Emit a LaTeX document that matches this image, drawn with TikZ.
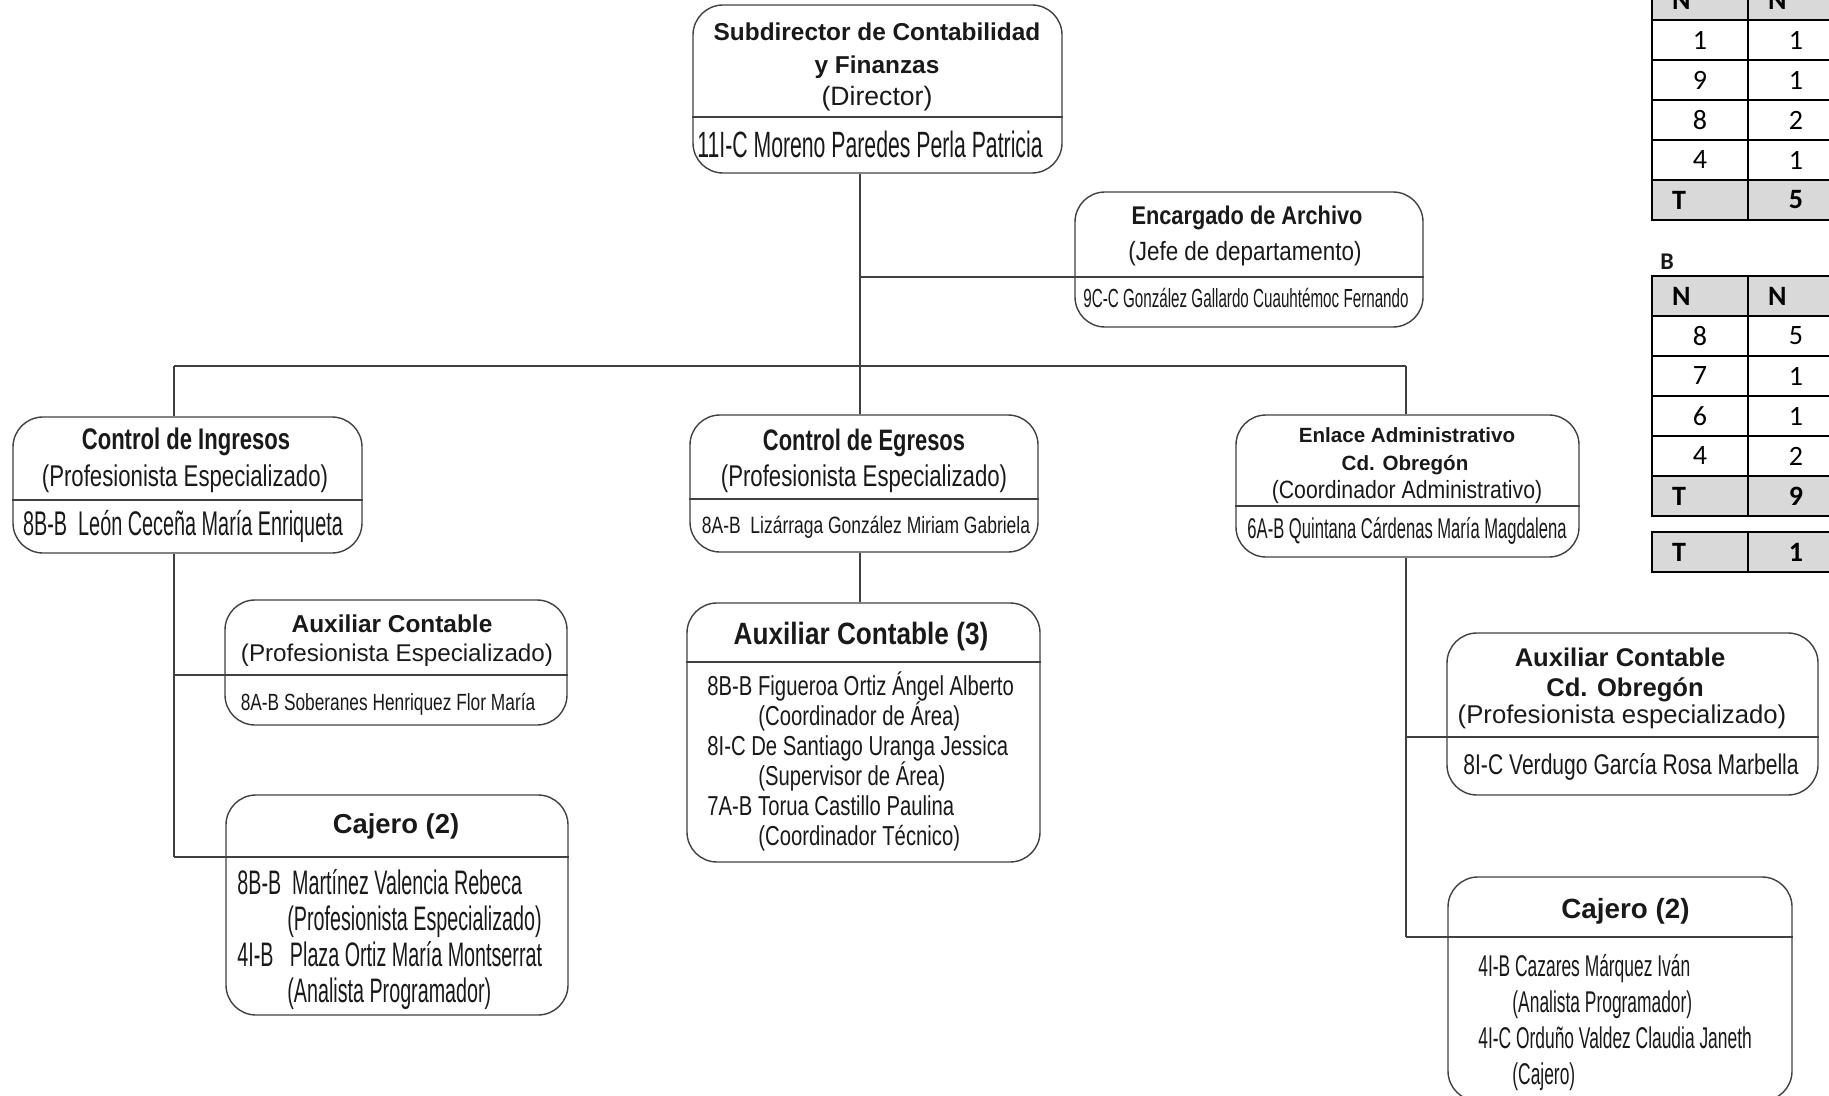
\documentclass[tikz,border=0pt]{standalone}
\usepackage{fontspec}
\setmainfont{Liberation Sans}
\newfontfamily\condA[FakeStretch=0.58]{Liberation Sans}
\newfontfamily\condB[FakeStretch=0.74]{Liberation Sans}
\newfontfamily\condC[FakeStretch=0.85]{Liberation Sans}
\newfontfamily\tabfont{Carlito}
\newcommand{\fsz}[1]{\fontsize{#1}{#1}\selectfont}
\begin{document}
\begin{tikzpicture}[x=0.5pt,y=-0.5pt,
	unit/.style={draw=black!75,line width=0.7pt,rounded corners=15pt,inner sep=0pt},
	txt/.style={inner sep=0pt,anchor=base,text=black!90},
	txtl/.style={inner sep=0pt,anchor=base west,text=black!90},
	link/.style={draw=black!75,line width=0.7pt},
	cell/.style={draw=black,line width=1.3pt,minimum height=20pt,inner ysep=0pt,inner xsep=10pt,text width=28pt,align=center,font=\tabfont\fsz{14}},
	head/.style={cell,fill=black!15,font=\tabfont\bfseries\fsz{14}}]
	\useasboundingbox (0,0) rectangle (1829,1096);
	\clip (0,0) rectangle (1829,1096);
	% Subdirector
	\node[unit,minimum width=184.5pt,minimum height=84pt] (sub) at (877.5,89) {};
	\draw[link] (sub.west |- 0,117) -- (sub.east |- 0,117);
	\node[txt] (sub-a) at (877,41) {\bfseries\fsz{12.2}Subdirector de Contabilidad};
	\node[txt] (sub-b) at (877,73.5) {\bfseries\fsz{12.2}y Finanzas};
	\node[txt] (sub-c) at (877,106) {\fsz{13.3}(Director)};
	\node[txt] (sub-n) at (870,158) {\condA\fsz{18.3}11I-C Moreno Paredes Perla Patricia};
	% Archivo
	\node[unit,minimum width=174pt,minimum height=67.5pt] (arch) at (1249,259.5) {};
	\draw[link] (arch.west |- 0,277) coordinate (arch-d) -- (arch.east |- 0,277);
	\node[txt] (arch-a) at (1247,225) {\condC\bfseries\fsz{12.8}Encargado de Archivo};
	\node[txt] (arch-b) at (1245,261) {\condC\fsz{13.2}(Jefe de departamento)};
	\node[txt] (arch-n) at (1246,307) {\condA\fsz{13.1}9C-C González Gallardo Cuauhtémoc Fernando};
	% Ingresos
	\node[unit,minimum width=174.5pt,minimum height=68pt] (ing) at (187.5,485) {};
	\draw[link] (ing.west |- 0,500) -- (ing.east |- 0,500);
	\node[txt] (ing-a) at (186,449.5) {\condB\bfseries\fsz{14.9}Control de Ingresos};
	\node[txt] (ing-b) at (185,486) {\condB\fsz{15}(Profesionista Especializado)};
	\node[txt] (ing-n) at (183,535) {\condA\fsz{17.1}8B-B\ \ León Ceceña María Enriqueta};
	% Egresos
	\node[unit,minimum width=174pt,minimum height=68.5pt] (egr) at (864,483.5) {};
	\draw[link] (egr.west |- 0,499) -- (egr.east |- 0,499);
	\node[txt] (egr-a) at (864,450) {\condB\bfseries\fsz{14.8}Control de Egresos};
	\node[txt] (egr-b) at (864,486) {\condB\fsz{15}(Profesionista Especializado)};
	\node[txt] (egr-n) at (866,533) {\condB\fsz{11.8}8A-B\ \ Lizárraga González Miriam Gabriela};
	% Enlace
	\node[unit,minimum width=171.5pt,minimum height=71pt] (enl) at (1407.5,486) {};
	\draw[link] (enl.west |- 0,506) -- (enl.east |- 0,506);
	\node[txt] (enl-a) at (1407,442) {\bfseries\fsz{10.3}Enlace Administrativo};
	\node[txt] (enl-b) at (1405,470) {\bfseries\fsz{10.3}Cd. Obregón};
	\node[txt] (enl-c) at (1407,498) {\condC\fsz{12.5}(Coordinador Administrativo)};
	\node[txt] (enl-n) at (1407,538) {\condA\fsz{14.3}6A-B Quintana Cárdenas María Magdalena};
	% Auxiliar ingresos
	\node[unit,minimum width=171pt,minimum height=62.5pt] (auxi) at (396,662.5) {};
	\draw[link] (auxi.west |- 0,675) coordinate (auxi-d) -- (auxi.east |- 0,675);
	\node[txt] (auxi-a) at (392,632) {\bfseries\fsz{12.2}Auxiliar Contable};
	\node[txt] (auxi-b) at (397,661) {\fsz{12.1}(Profesionista Especializado)};
	\node[txt] (auxi-n) at (388,710) {\condB\fsz{11.7}8A-B Soberanes Henriquez Flor María};
	% Cajero ingresos
	\node[unit,minimum width=171pt,minimum height=110pt] (caji) at (397,905) {};
	\draw[link] (caji.west |- 0,857) coordinate (caji-d) -- (caji.east |- 0,857);
	\node[txt] (caji-a) at (396,833) {\bfseries\fsz{13.7}Cajero (2)};
	\foreach \t/\x/\y [count=\k] in {{8B-B\ \ Martínez Valencia Rebeca}/237/894,{(Profesionista Especializado)}/287/930,{4I-B\ \ \ Plaza Ortiz María Montserrat}/237/966,{(Analista Programador)}/287/1002}
	\node[txtl] (caji-\k) at (\x,\y) {\condA\fsz{17}\t};
	% Auxiliar egresos
	\node[unit,minimum width=176.5pt,minimum height=129.5pt] (aux3) at (863.5,732.5) {};
	\draw[link] (aux3.west |- 0,662) -- (aux3.east |- 0,662);
	\node[txt] (aux3-a) at (861,644) {\condC\bfseries\fsz{15.4}Auxiliar Contable (3)};
	\foreach \t/\x/\y [count=\k] in {{8B-B Figueroa Ortiz Ángel Alberto}/707/695,{(Coordinador de Área)}/758/725,{8I-C De Santiago Uranga Jessica}/707/755,{(Supervisor de Área)}/758/785,{7A-B Torua Castillo Paulina}/707/815,{(Coordinador Técnico)}/758/845}
	\node[txtl] (aux3-\k) at (\x,\y) {\condB\fsz{13.7}\t};
	% Auxiliar Obregon
	\node[unit,minimum width=185.5pt,minimum height=81pt] (auxo) at (1632.5,714) {};
	\draw[link] (auxo.west |- 0,737) coordinate (auxo-d) -- (auxo.east |- 0,737);
	\node[txt] (auxo-a) at (1620,666) {\bfseries\fsz{12.8}Auxiliar Contable};
	\node[txt] (auxo-b) at (1625,696) {\bfseries\fsz{12.8}Cd. Obregón};
	\node[txt] (auxo-c) at (1622,723.5) {\fsz{12.85}(Profesionista especializado)};
	\node[txt] (auxo-n) at (1631,774) {\condB\fsz{14.25}8I-C Verdugo García Rosa Marbella};
	% Cajero Obregon
	\node[unit,minimum width=172pt,minimum height=112pt] (cajo) at (1620,989) {};
	\draw[link] (cajo.west |- 0,937) coordinate (cajo-d) -- (cajo.east |- 0,937);
	\node[txt] (cajo-a) at (1625.5,918) {\bfseries\fsz{13.9}Cajero (2)};
	\foreach \t/\x/\y [count=\k] in {{4I-B Cazares Márquez Iván}/1478/976,{(Analista Programador)}/1512/1012,{4I-C Orduño Valdez Claudia Janeth}/1478/1048,{(Cajero)}/1512/1084}
	\node[txtl] (cajo-\k) at (\x,\y) {\condA\fsz{15}\t};
	% lineas
	\coordinate (busL) at (174,366);
	\coordinate (spine) at (860,366);
	\coordinate (busR) at (1406,366);
	\draw[link] (busL) -- (busR);
	\draw[link] (sub.south -| spine) -- (spine);
	\draw[link] (arch-d) -- (arch-d -| spine);
	\draw[link] (ing.north -| busL) -- (busL);
	\draw[link] (egr.north -| spine) -- (spine);
	\draw[link] (enl.north -| busR) -- (busR);
	\draw[link] (egr.south -| spine) -- (aux3.north -| spine);
	\draw[link] (ing.south -| busL) -- (caji-d -| busL);
	\draw[link] (auxi-d) -- (auxi-d -| busL);
	\draw[link] (caji-d) -- (caji-d -| busL);
	\draw[link] (enl.south -| busR) -- (cajo-d -| busR);
	\draw[link] (auxo-d) -- (auxo-d -| busR);
	\draw[link] (cajo-d) -- (cajo-d -| busR);
	% tablas
	\node[head,align=left] (a-0-l) at (1700,0) {N};
	\node[head,align=left] (a-0-r) at (1796,0) {N};
	\foreach \p/\q [count=\k] in {1/1,9/1,8/2,4/1}{
		\node[cell] (a-\k-l) at (1700,{\k*40}) {\p};
		\node[cell] (a-\k-r) at (1796,{\k*40}) {\q};}
	\node[head,align=left] (a-5-l) at (1700,200) {T};
	\node[head] (a-5-r) at (1796,200) {5};
	\node[txtl,font=\tabfont\bfseries\fsz{12}] (blab) at (1660,270) {B};
	\node[head,align=left] (b-0-l) at (1700,296) {N};
	\node[head,align=left] (b-0-r) at (1796,296) {N};
	\foreach \p/\q [count=\k] in {8/5,7/1,6/1,4/2}{
		\node[cell] (b-\k-l) at (1700,{296+\k*40}) {\p};
		\node[cell] (b-\k-r) at (1796,{296+\k*40}) {\q};}
	\node[head,align=left] (b-5-l) at (1700,496) {T};
	\node[head] (b-5-r) at (1796,496) {9};
	\node[head,align=left] (c-l) at (1700,552) {T};
	\node[head] (c-r) at (1796,552) {1};
\end{tikzpicture}
\end{document}
